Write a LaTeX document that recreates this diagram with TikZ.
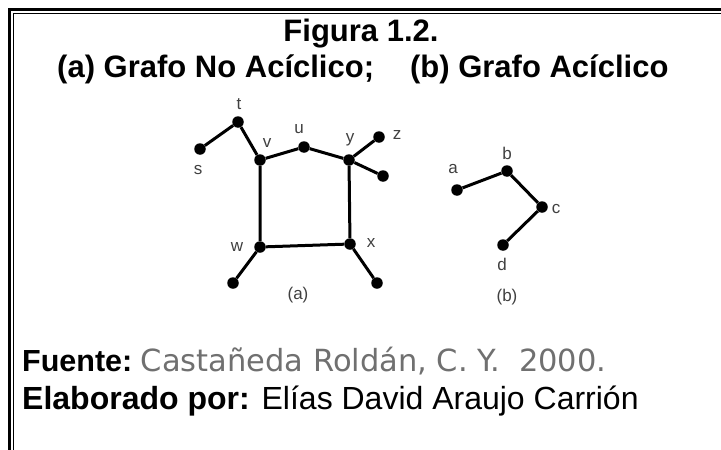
\documentclass[tikz,border=0pt]{standalone}
\usepackage{fontspec}
\setmainfont{Liberation Sans}
\newfontfamily\grayfont{DejaVu Sans}
\definecolor{srcgray}{HTML}{707070}
\definecolor{lblgray}{HTML}{404040}
\begin{document}
\begin{tikzpicture}[x=1pt,y=-1pt,
  dot/.style={circle,fill=black,inner sep=0pt,minimum size=11.5pt},
  edge/.style={line width=3pt},
  lbl/.style={font=\fontsize{17}{17}\selectfont, text=lblgray, inner sep=0pt},
  big/.style={font=\fontsize{31}{31}\selectfont, inner sep=0pt}]
\useasboundingbox (0,0) rectangle (721,450);
\fill[white] (0,0) rectangle (721,450);
% border
\draw[line width=2.5pt] (9.5,450) -- (9.5,9.5) -- (721,9.5);
\draw[line width=1pt] (13,450) -- (13,13) -- (721,13);
% title
\node[big, anchor=base] (t1) at (361,41) {\bfseries Figura 1.2.};
\node[big, anchor=base west] (t2) at (57,77) {\bfseries (a) Grafo No Acíclico;\hspace{36pt}(b) Grafo Acíclico};
% graph (a)
\node[dot] (t) at (238,122) {};
\node[dot] (s) at (200,149) {};
\node[dot] (v) at (260,160) {};
\node[dot] (u) at (304,147) {};
\node[dot] (y) at (349,160) {};
\node[dot] (z) at (379,137) {};
\node[dot] (y2) at (383,176) {};
\node[dot] (w) at (260,247) {};
\node[dot] (x) at (350,244) {};
\node[dot] (w2) at (233,283) {};
\node[dot] (x2) at (377,283) {};
\draw[edge] (s) -- (t) -- (v) -- (u) -- (y) -- (z);
\draw[edge] (y) -- (y2);
\draw[edge] (v) -- (w) -- (x) -- (y);
\draw[edge] (w) -- (w2);
\draw[edge] (x) -- (x2);
\node[lbl] (lt) at (239,104) {t};
\node[lbl] (ls) at (198,170) {s};
\node[lbl] (lv) at (267,143) {v};
\node[lbl] (lu) at (299,129) {u};
\node[lbl] (ly) at (350,140) {y};
\node[lbl] (lz) at (397,135) {z};
\node[lbl] (lw) at (237,247) {w};
\node[lbl] (lx) at (371,243) {x};
\node[lbl] (la) at (298,295) {(a)};
% graph (b)
\node[dot] (a) at (457,190) {};
\node[dot] (b) at (507,171) {};
\node[dot] (c) at (542,207) {};
\node[dot] (d) at (503,245) {};
\draw[edge] (a) -- (b) -- (c) -- (d);
\node[lbl] (lla) at (453,169) {a};
\node[lbl] (llb) at (507,153) {b};
\node[lbl] (llc) at (556,209) {c};
\node[lbl] (lld) at (502,264) {d};
\node[lbl] (lb) at (507,297) {(b)};
% footer
\node[anchor=base west, inner sep=0pt, font=\fontsize{30.5}{30.5}\selectfont] (f1) at (22,371) {\bfseries Fuente:\ {\mdseries\grayfont\color{srcgray}\fontsize{30.5}{30.5}\selectfont Castañeda Roldán, C. Y.\ \ 2000.}};
\node[anchor=base west, inner sep=0pt, font=\fontsize{32}{32}\selectfont] (f2) at (22,409) {{\bfseries Elaborado por:} Elías David Araujo Carrión};
\end{tikzpicture}
\end{document}
